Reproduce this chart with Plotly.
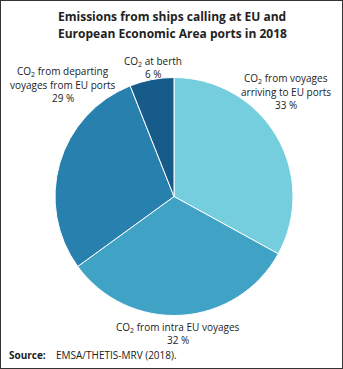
import plotly.graph_objects as go

categories = ["CO<sub>2</sub> from voyages|arriving to EU ports",
              "CO<sub>2</sub> from intra EU voyages",
              "CO<sub>2</sub> from departing|voyages from EU ports",
              "CO<sub>2</sub> at berth"]
values = [33, 32, 29, 6]
colors = ["#74cedd", "#40a3c5", "#2880ae", "#175b8b"]

W, H = 343, 369
fig = go.Figure()
fig.add_trace(go.Pie(
    labels=[c.replace("|", " ") for c in categories], values=values, sort=False,
    direction="clockwise", rotation=0, textinfo="none", hoverinfo="label+percent",
    marker=dict(colors=colors, line=dict(color="white", width=1)),
    domain=dict(x=[55 / W, 293 / W], y=[(H - 316) / H, (H - 77) / H]),
    showlegend=False,
))

font = "Open Sans"
# first-line pixel centres of each label block
label_pos = [(286, 79), (178, 327), (63, 72), (153, 61)]
line_gap = 13
anns = []
for lab, v, (px, py) in zip(categories, values, label_pos):
    lines = lab.split("|") + [f"{v} %"]
    for i, ln in enumerate(lines):
        anns.append(dict(x=px / W, y=1 - (py + i * line_gap) / H, xref="paper", yref="paper",
                         text=ln, showarrow=False, borderpad=0,
                         font=dict(family=font, size=10, color="#222"),
                         align="center", xanchor="center", yanchor="middle"))
for i, t in enumerate(["Emissions from ships calling at EU and",
                       "European Economic Area ports in 2018"]):
    anns.append(dict(x=172 / W, y=1 - (16 + i * 17) / H, xref="paper", yref="paper",
                     text=f"<b>{t}</b>", showarrow=False, borderpad=0,
                     font=dict(family=font, size=12, color="#222"),
                     xanchor="center", yanchor="middle"))
anns.append(dict(x=8 / W, y=1 - 355 / H, xref="paper", yref="paper",
                 text="<b>Source:</b>", showarrow=False, borderpad=0,
                 font=dict(family=font, size=10, color="#222"),
                 xanchor="left", yanchor="middle"))
anns.append(dict(x=55 / W, y=1 - 355 / H, xref="paper", yref="paper",
                 text="EMSA/THETIS-MRV (2018).", showarrow=False, borderpad=0,
                 font=dict(family=font, size=10, color="#222"),
                 xanchor="left", yanchor="middle"))

fig.update_layout(
    width=W, height=H, margin=dict(l=0, r=0, t=0, b=0),
    paper_bgcolor="white", plot_bgcolor="white",
    annotations=anns,
    shapes=[dict(type="rect", xref="paper", yref="paper", x0=0, y0=0, x1=1, y1=1,
                 line=dict(color="#333", width=2))],
)
fig.write_html("out.html")
